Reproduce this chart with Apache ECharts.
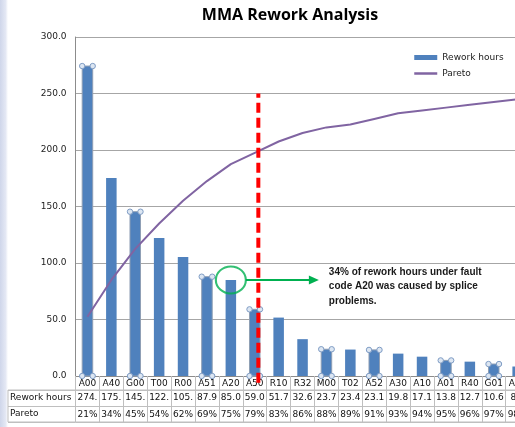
<!DOCTYPE html>
<html>
<head>
<meta charset="utf-8">
<script src="https://cdn.jsdelivr.net/npm/echarts@6/dist/echarts.min.js"></script>
<style>
    html, body { margin: 0; padding: 0; background: #fff; overflow: hidden; }
    #strip { position: absolute; left: 0; top: 0; width: 8px; height: 427px;
             background: linear-gradient(to right, #cfd6ea, #e4e8f4 70%, #fff); }
    #chart { position: absolute; left: 0; top: 0; width: 580px; height: 427px; }
</style>
</head>
<body>
<div id="strip"></div>
<div id="chart"></div>
<script>
    // fault codes, sorted by rework hours (chart is cropped on the right)
    const categories = ['A00','A40','G00','T00','R00','A51','A20','A50','R10','R32',
                        'M00','T02','A52','A30','A10','A01','R40','G01','A02'];
    const reworkHours = [274.3,175.2,145.4,122.1,105.3,87.9,85.0,59.0,51.7,32.6,
                         23.7,23.4,23.1,19.8,17.1,13.8,12.7,10.6,8.4];
    const pareto = [0.21,0.34,0.45,0.54,0.62,0.69,0.75,0.79,0.83,0.86,
                    0.88,0.89,0.91,0.93,0.94,0.95,0.96,0.97,0.98];
    const yTicks = [0, 50, 100, 150, 200, 250, 300];
    const tableRows = ['Rework hours', 'Pareto'];
    // bars that still show Excel selection handles
    const selectedBars = ['A00','G00','A51','A50','M00','A52','A01','G01'];
    // red cut-off marker (category units, from left edge) and annotation
    const cutoffX = 7.65;
    const cutoffTop = 250;
    const noteCode = 'A20';
    const noteText = '34% of rework hours under fault\ncode A20 was caused by splice\nproblems.';

    const FONT = 'DejaVu Sans';
    const BORDER = '#bfbfbf';
    const cellW = 23.9;
    const plotLeft = 75.5;

    const hoursLabels = reworkHours.map(v => {
        let s = v.toFixed(1);
        return s.length > 4 ? s.slice(0, 4) : s;
    });
    const paretoLabels = pareto.map(v => Math.round(v * 100) + '%');
    const handleData = selectedBars.map(c => {
        let i = categories.indexOf(c);
        return [i, reworkHours[i]];
    });

    let chart = echarts.init(document.getElementById('chart'));
    let options = {
        animation: false,
        textStyle: {fontFamily: FONT},
        title: {
            text: 'MMA Rework Analysis',
            left: 'center',
            top: 2,
            textStyle: {fontFamily: 'Open Sans', fontSize: 16, fontWeight: 'bold', color: '#000'}
        },
        legend: {
            orient: 'vertical',
            left: 408,
            top: 48,
            itemWidth: 23,
            itemHeight: 5,
            itemGap: 7,
            textStyle: {fontFamily: FONT, fontSize: 9, color: '#222'},
            data: [
                {name: 'Rework hours', icon: 'rect'},
                {name: 'Pareto', itemStyle: {opacity: 0}, lineStyle: {width: 2.5}}
            ]
        },
        grid: [
            {left: plotLeft, top: 37, width: cellW * categories.length, height: 339},
            {left: plotLeft, top: 390, width: cellW * categories.length, height: 32,
             show: true, borderColor: BORDER, borderWidth: 1},
            {left: 8, top: 390, width: plotLeft - 8, height: 32,
             show: true, borderColor: BORDER, borderWidth: 1}
        ],
        xAxis: [
            {
                type: 'category', gridIndex: 0, data: categories,
                axisLine: {lineStyle: {color: '#8c8c8c'}},
                axisTick: {show: true, length: 14, interval: 0, lineStyle: {color: BORDER}},
                axisLabel: {interval: 0, margin: 3, fontSize: 9, color: '#111'},
                splitLine: {show: false}
            },
            {
                type: 'category', gridIndex: 1, position: 'top', data: hoursLabels,
                axisLine: {show: false}, axisTick: {show: false},
                axisLabel: {inside: true, interval: 0, margin: 3, fontSize: 9, color: '#111'},
                splitLine: {show: true, interval: 0, lineStyle: {color: BORDER}}
            },
            {
                type: 'category', gridIndex: 1, position: 'bottom', data: paretoLabels,
                axisLine: {show: false}, axisTick: {show: false},
                axisLabel: {inside: true, interval: 0, margin: 3, fontSize: 9, color: '#111'},
                splitLine: {show: false}
            },
            {type: 'value', gridIndex: 0, min: 0, max: categories.length, show: false},
            {type: 'value', gridIndex: 2, show: false}
        ],
        yAxis: [
            {
                type: 'value', gridIndex: 0, min: 0, max: 300, interval: 50,
                axisLine: {show: true, lineStyle: {color: '#8c8c8c'}},
                axisTick: {show: false},
                axisLabel: {margin: 9, fontSize: 9, color: '#222',
                            formatter: v => yTicks.indexOf(v) >= 0 ? v.toFixed(1) : ''},
                splitLine: {lineStyle: {color: '#a6a6a6'}}
            },
            {type: 'value', gridIndex: 0, min: 0, max: 1.2, show: false},
            {
                type: 'category', gridIndex: 1, data: tableRows, inverse: true,
                axisLine: {show: false}, axisTick: {show: false}, axisLabel: {show: false},
                splitLine: {show: true, interval: 0, lineStyle: {color: BORDER}}
            },
            {
                type: 'category', gridIndex: 2, data: tableRows, inverse: true,
                axisLine: {show: false}, axisTick: {show: false},
                axisLabel: {inside: true, margin: 2, fontSize: 9, color: '#111'},
                splitLine: {show: true, interval: 0, lineStyle: {color: BORDER}}
            }
        ],
        series: [
            {
                name: 'Rework hours', type: 'bar', xAxisIndex: 0, yAxisIndex: 0,
                barWidth: '44%', itemStyle: {color: '#4f81bd'},
                data: reworkHours
            },
            {
                name: 'Pareto', type: 'line', xAxisIndex: 0, yAxisIndex: 1,
                symbol: 'none', lineStyle: {color: '#8064a2', width: 2},
                itemStyle: {color: '#8064a2'},
                data: pareto
            },
            {
                name: 'handles', type: 'custom', xAxisIndex: 0, yAxisIndex: 0, silent: true,
                renderItem: function (params, api) {
                    let top = api.coord([api.value(0), api.value(1)]);
                    let bot = api.coord([api.value(0), 0]);
                    let hw = api.size([1, 0])[0] * 0.22;
                    let corners = [[top[0] - hw, top[1]], [top[0] + hw, top[1]],
                                   [top[0] - hw, bot[1]], [top[0] + hw, bot[1]]];
                    let children = [{
                        type: 'rect',
                        shape: {x: top[0] - hw, y: top[1], width: hw * 2, height: bot[1] - top[1]},
                        style: {fill: 'none', stroke: '#8f9fb5', lineWidth: 1}
                    }];
                    corners.forEach(p => children.push({
                        type: 'circle', shape: {cx: p[0], cy: p[1], r: 2.7},
                        style: {fill: '#dce6f2', stroke: '#7f9cc4', lineWidth: 1}
                    }));
                    return {type: 'group', children: children};
                },
                data: handleData, z: 3
            },
            {
                name: 'circle', type: 'scatter', xAxisIndex: 0, yAxisIndex: 0, silent: true,
                symbol: 'circle', symbolSize: [30, 27],
                itemStyle: {color: 'rgba(0,0,0,0)', borderColor: '#00b050', borderWidth: 2},
                data: [[noteCode, reworkHours[categories.indexOf(noteCode)]]], z: 4
            },
            {
                name: 'cutoff', type: 'line', xAxisIndex: 3, yAxisIndex: 0, silent: true,
                symbol: 'none', clip: false,
                lineStyle: {color: '#ff0000', width: 4, type: [10, 5]},
                data: [[cutoffX, -6], [cutoffX, cutoffTop]], z: 5
            }
        ]
    };
    chart.setOption(options);

    // annotation arrow + text next to the circled bar
    let p = chart.convertToPixel({xAxisIndex: 0, yAxisIndex: 0},
                                 [noteCode, reworkHours[categories.indexOf(noteCode)]]);
    let cx = p[0], cy = p[1];
    chart.setOption({
        graphic: [
            {type: 'line', shape: {x1: cx + 15, y1: cy, x2: cx + 80, y2: cy},
             style: {stroke: '#00b050', lineWidth: 2}, z: 10},
            {type: 'polygon', shape: {points: [[cx + 78, cy - 4.5], [cx + 88, cy], [cx + 78, cy + 4.5]]},
             style: {fill: '#00b050'}, z: 10},
            {type: 'text', x: cx + 98, y: cy - 15, z: 10,
             style: {text: noteText, fill: '#1a1a1a', font: 'bold 10px "Liberation Sans"',
                     lineHeight: 14.5, verticalAlign: 'top'}}
        ]
    });
</script>
</body>
</html>
